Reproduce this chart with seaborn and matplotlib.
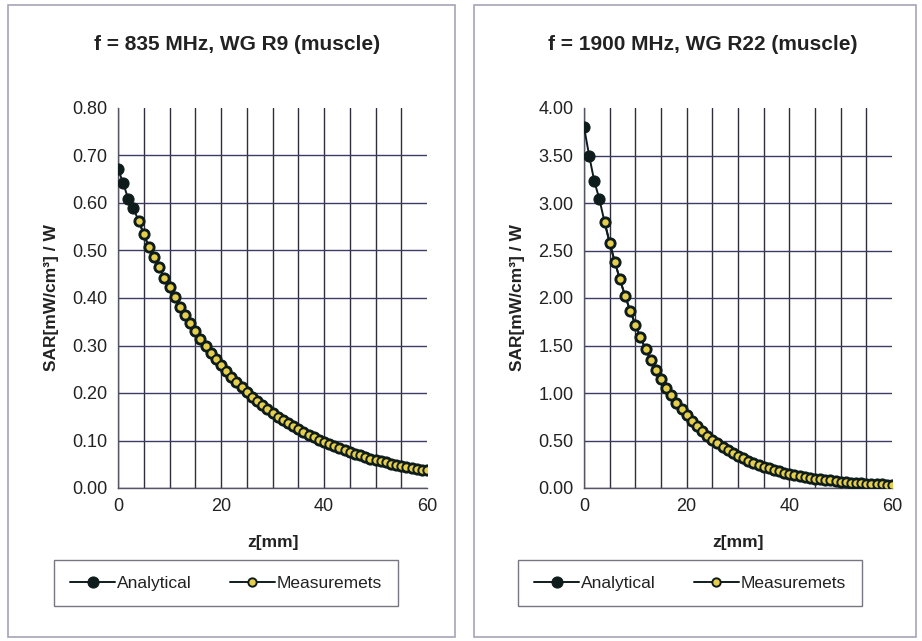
import matplotlib
matplotlib.use("Agg")
import matplotlib.pyplot as plt
import seaborn as sns
from matplotlib.patches import Rectangle
from matplotlib.ticker import MultipleLocator

# ── Data ────────────────────────────────────────────────────────────────────
z_analytical = list(range(0, 61))
z_measured = list(range(4, 61))

sar_835_analytical = [
    0.672, 0.642, 0.608, 0.589, 0.562, 0.535, 0.507, 0.486, 0.465, 0.442,
    0.423, 0.402, 0.381, 0.364, 0.347, 0.330, 0.314, 0.299, 0.285, 0.271,
    0.258, 0.246, 0.234, 0.223, 0.212, 0.202, 0.192, 0.183, 0.174, 0.166,
    0.158, 0.150, 0.143, 0.136, 0.130, 0.124, 0.118, 0.112, 0.107, 0.102,
    0.097, 0.092, 0.088, 0.084, 0.080, 0.076, 0.072, 0.069, 0.066, 0.062,
    0.059, 0.057, 0.054, 0.051, 0.049, 0.047, 0.044, 0.042, 0.040, 0.038,
    0.037,
]
sar_835_measured = [
    0.562, 0.535, 0.507, 0.486, 0.465, 0.442,
    0.423, 0.402, 0.381, 0.364, 0.347, 0.330, 0.314, 0.299, 0.285, 0.271,
    0.258, 0.246, 0.234, 0.223, 0.212, 0.202, 0.192, 0.183, 0.174, 0.166,
    0.158, 0.150, 0.143, 0.136, 0.130, 0.124, 0.118, 0.112, 0.107, 0.102,
    0.097, 0.092, 0.088, 0.084, 0.080, 0.076, 0.072, 0.069, 0.066, 0.062,
    0.059, 0.057, 0.054, 0.051, 0.049, 0.047, 0.044, 0.042, 0.040, 0.038,
    0.037,
]

sar_1900_analytical = [
    3.800, 3.500, 3.230, 3.040, 2.800, 2.582, 2.380, 2.195, 2.023, 1.866,
    1.720, 1.586, 1.462, 1.348, 1.243, 1.146, 1.057, 0.974, 0.898, 0.828,
    0.764, 0.704, 0.649, 0.598, 0.552, 0.509, 0.469, 0.432, 0.399, 0.368,
    0.339, 0.313, 0.288, 0.266, 0.245, 0.226, 0.208, 0.192, 0.177, 0.163,
    0.150, 0.139, 0.128, 0.118, 0.109, 0.100, 0.092, 0.085, 0.079, 0.073,
    0.067, 0.062, 0.057, 0.053, 0.049, 0.046, 0.043, 0.040, 0.038, 0.036,
    0.034,
]
sar_1900_measured = [
    2.800, 2.582, 2.380, 2.195, 2.023, 1.866,
    1.720, 1.586, 1.462, 1.348, 1.243, 1.146, 1.057, 0.974, 0.898, 0.828,
    0.764, 0.704, 0.649, 0.598, 0.552, 0.509, 0.469, 0.432, 0.399, 0.368,
    0.339, 0.313, 0.288, 0.266, 0.245, 0.226, 0.208, 0.192, 0.177, 0.163,
    0.150, 0.139, 0.128, 0.118, 0.109, 0.100, 0.092, 0.085, 0.079, 0.073,
    0.067, 0.062, 0.057, 0.053, 0.049, 0.046, 0.043, 0.040, 0.038, 0.036,
    0.034,
]

titles = ["f = 835 MHz, WG R9 (muscle)", "f = 1900 MHz, WG R22 (muscle)"]
y_max = [0.80, 4.00]
y_step = [0.10, 0.50]
series_names = ["Analytical", "Measuremets"]

# ── Style ───────────────────────────────────────────────────────────────────
sns.set_style("white")
plt.rcParams["font.family"] = ["Liberation Sans", "DejaVu Sans"]

W, H = 922, 641
fig = plt.figure(figsize=(W / 100, H / 100), dpi=100)
fig.patch.set_facecolor("white")

DARK = "#0f1c1c"
GOLD = "#e6cf4a"
GRID = "#2e2e3c"


def fx(px):
    return px / W


def fy(py):
    return 1 - py / H


panels = [
    dict(box=(8, 5, 455, 637), ax=(118, 108, 427, 488), title_x=237, legend_x=226,
         analytical=sar_835_analytical, measured=sar_835_measured),
    dict(box=(474, 5, 916, 637), ax=(584, 108, 892, 488), title_x=703, legend_x=690,
         analytical=sar_1900_analytical, measured=sar_1900_measured),
]

for i, p in enumerate(panels):
    # outer chart-area border
    x0, y0, x1, y1 = p["box"]
    fig.patches.append(Rectangle((fx(x0), fy(y1)), fx(x1 - x0), (y1 - y0) / H,
                                 transform=fig.transFigure, fill=False,
                                 edgecolor="#a4a4b8", linewidth=1.2))

    ax0, ay0, ax1, ay1 = p["ax"]
    ax = fig.add_axes([fx(ax0), fy(ay1), fx(ax1 - ax0), (ay1 - ay0) / H])

    sns.lineplot(x=z_analytical, y=p["analytical"], ax=ax, color=DARK,
                 linewidth=1.4, marker="o", markersize=8, markerfacecolor=DARK,
                 markeredgecolor=DARK, label=series_names[0], zorder=3)
    sns.lineplot(x=z_measured, y=p["measured"], ax=ax, color=DARK,
                 linewidth=1.4, marker="o", markersize=6, markerfacecolor=GOLD,
                 markeredgecolor=DARK, markeredgewidth=1.4,
                 label=series_names[1], zorder=4)

    ax.set_xlim(0, 60)
    ax.set_ylim(0, y_max[i])
    ax.xaxis.set_major_locator(MultipleLocator(20))
    ax.xaxis.set_minor_locator(MultipleLocator(5))
    ax.yaxis.set_major_locator(MultipleLocator(y_step[i]))
    ax.yaxis.set_major_formatter(plt.FormatStrFormatter("%.2f"))

    ax.grid(True, which="both", axis="x", color=GRID, linewidth=1.0)
    ax.grid(True, which="major", axis="y", color="#3c3c64", linewidth=1.0)
    ax.set_axisbelow(True)

    for s in ["top", "right"]:
        ax.spines[s].set_visible(False)
    for s in ["left", "bottom"]:
        ax.spines[s].set_color("#555566")
        ax.spines[s].set_linewidth(1.0)

    ax.tick_params(axis="both", which="major", direction="out", length=4,
                   width=1, color="#555566", labelsize=13, labelcolor="#222222")
    ax.tick_params(axis="x", which="minor", length=0)

    fig.canvas.draw()
    # no gridline along the top / right edge of the plot area
    for gl, v in zip(ax.yaxis.get_gridlines(), ax.get_yticks()):
        if abs(v - y_max[i]) < 1e-9:
            gl.set_visible(False)
    for gl, v in zip(ax.xaxis.get_gridlines(), ax.get_xticks()):
        if abs(v - 60) < 1e-9:
            gl.set_visible(False)
    for tk, v in zip(ax.xaxis.get_minor_ticks(), ax.xaxis.get_minorticklocs()):
        if abs(v - 60) < 1e-9:
            tk.gridline.set_visible(False)

    ax.set_xlabel("z[mm]", fontsize=12.5, fontweight="bold", color="#222222")
    ax.xaxis.set_label_coords(0.5, -0.125)
    ax.set_ylabel("SAR[mW/cm³] / W", fontsize=12.5, fontweight="bold", color="#222222")
    ax.yaxis.set_label_coords(-0.19, 0.5)

    fig.text(fx(p["title_x"]), fy(45), titles[i], ha="center", va="center",
             fontsize=15, fontweight="bold", color="#222222")

    handles, labels = ax.get_legend_handles_labels()
    ax.get_legend().remove()
    leg = fig.legend(handles, labels, loc="center",
                     bbox_to_anchor=(fx(p["legend_x"]), fy(583)), ncol=2,
                     fontsize=12.5, frameon=True, fancybox=False,
                     edgecolor="#555566", handlelength=2.6, handletextpad=0.1,
                     columnspacing=2.2, borderpad=0.9)
    leg.get_frame().set_linewidth(1.0)
    for t in leg.get_texts():
        t.set_color("#222222")

fig.savefig("out.png", dpi=100)
